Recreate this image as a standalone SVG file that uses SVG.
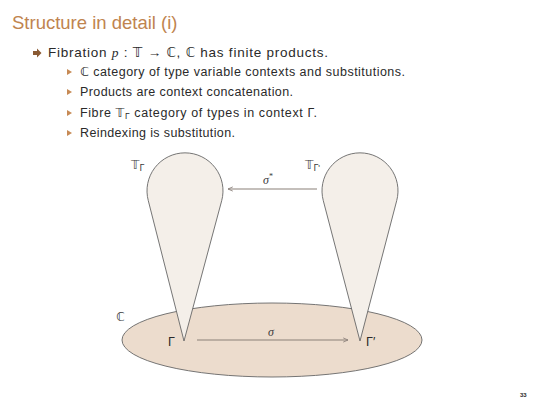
<svg xmlns="http://www.w3.org/2000/svg" width="534" height="400" viewBox="0 0 534 400">
<style>
.t{font-family:"Liberation Sans","DejaVu Sans",sans-serif;fill:#2a2a2a}
.m{font-family:"DejaVu Sans","Liberation Sans",sans-serif}
.lbl{font-family:"DejaVu Sans","Liberation Sans",sans-serif;fill:#3a3a3a;font-size:12px}
.it{font-family:"Liberation Serif","DejaVu Serif",serif;font-style:italic}
.drop{fill:#f4efe9;stroke:#666;stroke-width:0.9}
.base{fill:#ecdccd;stroke:#666;stroke-width:0.9}
.arr{stroke:#8a8079;stroke-width:1.2;fill:none}
.tri{fill:#c78a55}
</style>
<defs>
<marker id="ah" viewBox="0 0 10 10" refX="9" refY="5" markerWidth="6" markerHeight="6" orient="auto-start-reverse" markerUnits="userSpaceOnUse">
<path d="M1,1.5 L9,5 L1,8.5" fill="none" stroke="#8a8079" stroke-width="1.4"/>
</marker>
</defs>
<rect width="534" height="400" fill="#ffffff"/>
<text x="12" y="29" font-size="18.5" style="font-family:'Liberation Sans','DejaVu Sans',sans-serif" fill="#c0844f">Structure in detail (i)</text>
<path d="M33,51 L37,51 L37,48.5 L41.5,53 L37,57.5 L37,55 L33,55 Z" fill="#8a5a33"/>
<text class="t" x="48" y="57" font-size="13.5" textLength="280" lengthAdjust="spacing">Fibration <tspan class="it">p</tspan> : <tspan class="m">𝕋</tspan> → <tspan class="m">ℂ</tspan>, <tspan class="m">ℂ</tspan> has finite products.</text>
<path class="tri" d="M67,69 L72,72 L67,75 Z"/>
<path class="tri" d="M67,89 L72,92 L67,95 Z"/>
<path class="tri" d="M67,110 L72,113 L67,116 Z"/>
<path class="tri" d="M67,130 L72,133 L67,136 Z"/>
<text class="t" x="80" y="76" font-size="12.5" textLength="325" lengthAdjust="spacing"><tspan class="m">ℂ</tspan> category of type variable contexts and substitutions.</text>
<text class="t" x="80" y="96" font-size="12.5" textLength="213" lengthAdjust="spacing">Products are context concatenation.</text>
<text class="t" x="80" y="117" font-size="12.5" textLength="237" lengthAdjust="spacing">Fibre <tspan class="m">𝕋</tspan><tspan font-size="8.5" dy="2">Γ</tspan><tspan dy="-2"> category of types in context Γ.</tspan></text>
<text class="t" x="80" y="137" font-size="12.5" textLength="155" lengthAdjust="spacing">Reindexing is substitution.</text>

<g id="base">
<ellipse class="base" cx="272" cy="340" rx="150" ry="37"/>
</g>
<g id="fibreL">
<path class="drop" d="M184,341 L148.3,200.7 A38,38 0 1 1 221.7,200.7 Z"/>
</g>
<g id="fibreR">
<path class="drop" d="M360,341 L323.3,200.7 A38,38 0 1 1 396.7,200.7 Z"/>
</g>
<g id="connectors">
<line class="arr" x1="317" y1="189" x2="228" y2="189" marker-end="url(#ah)"/>
<line class="arr" x1="197" y1="340" x2="348" y2="340" marker-end="url(#ah)"/>
</g>
<g id="labels">
<text class="lbl" x="131" y="169">𝕋<tspan font-size="8.5" dy="2">Γ</tspan></text>
<text class="lbl" x="305" y="169">𝕋<tspan font-size="8.5" dy="2">Γ<tspan font-family="Liberation Sans">'</tspan></tspan></text>
<text class="lbl it" x="263" y="184" font-size="13">σ<tspan font-size="8" dy="-5" style="font-style:normal">*</tspan></text>
<text class="lbl it" x="268" y="336" font-size="13">σ</text>
<text class="lbl" x="116" y="321" font-size="13">ℂ</text>
<text class="t" x="168" y="346" font-size="12.5">Γ</text>
<text class="t" x="366" y="346" font-size="12.5">Γ′</text>
</g>
<text class="t" x="520" y="397" font-size="6" font-weight="bold">33</text>
</svg>
